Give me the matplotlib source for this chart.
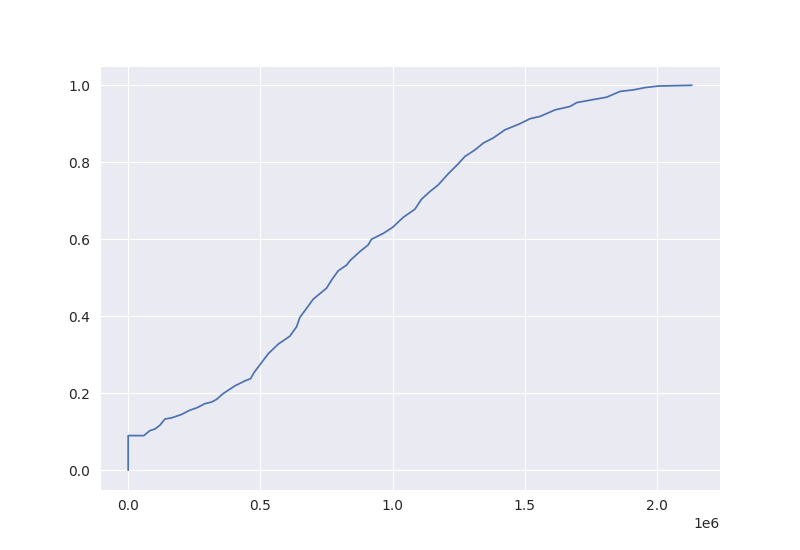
import matplotlib
matplotlib.use("Agg")
import matplotlib.pyplot as plt
import seaborn as sns

# ECDF knots (x values, cumulative proportion)
x_vals = [0, 0, 59400, 82000, 101000, 120000, 139000, 164000, 202000, 233000,
          259000, 290000, 315000, 334000, 359000, 403000, 441000, 463000, 476000,
          498000, 530000, 568000, 611000, 637000, 649000, 674000, 699000, 750000,
          769000, 794000, 826000, 838000, 876000, 907000, 920000, 964000, 1000000,
          1040000, 1084000, 1109000, 1141000, 1172000, 1210000, 1248000, 1273000,
          1311000, 1343000, 1380000, 1424000, 1481000, 1519000, 1557000, 1614000,
          1671000, 1696000, 1752000, 1809000, 1860000, 1910000, 1955000, 2005000,
          2075000, 2131000]
cdf_vals = [0.0, 0.090, 0.090, 0.103, 0.107, 0.117, 0.133, 0.136, 0.145, 0.156,
            0.162, 0.173, 0.177, 0.184, 0.199, 0.219, 0.232, 0.238, 0.254,
            0.274, 0.303, 0.328, 0.348, 0.373, 0.397, 0.420, 0.444, 0.473,
            0.494, 0.518, 0.533, 0.544, 0.568, 0.585, 0.600, 0.615, 0.631,
            0.657, 0.678, 0.704, 0.724, 0.741, 0.770, 0.796, 0.815,
            0.832, 0.850, 0.863, 0.884, 0.900, 0.913, 0.919, 0.936,
            0.945, 0.955, 0.962, 0.969, 0.984, 0.988, 0.994, 0.998,
            0.999, 1.0]

sns.set_style("darkgrid")
fig, ax = plt.subplots(figsize=(8, 5.5), dpi=100)
ax.plot(x_vals, cdf_vals, color="#4c72b0", linewidth=1.25)
fig.savefig("out.png", dpi=100)
